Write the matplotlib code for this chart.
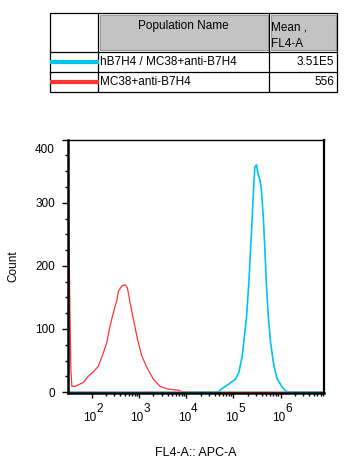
import matplotlib
matplotlib.use("Agg")
import matplotlib.pyplot as plt
import matplotlib.transforms as mtransforms
from matplotlib.patches import Rectangle
from matplotlib.ticker import FixedLocator, NullFormatter
import numpy as np

plt.rcParams['font.family'] = ['Liberation Sans', 'DejaVu Sans']

# legend table
pop_names = ["hB7H4 / MC38+anti-B7H4", "MC38+anti-B7H4"]
pop_means = ["3.51E5", "556"]
pop_colors = ["#00c3f3", "#ff3535"]

# MC38+anti-B7H4 histogram (FL4-A value, count)
red_fl = [31.6, 34, 35.7, 37.5, 43.5, 65, 83, 107, 136, 174, 205, 242, 284, 309,
          335, 363, 429, 504, 564, 644, 757, 920, 1140, 1458, 2015, 2796, 3880,
          6850, 8220, 8.3e6]
red_count = [300, 131, 35, 9, 9, 15, 25, 32, 41, 62, 78, 105, 126, 136,
             145, 160, 168, 170, 165, 141, 115, 84, 57, 39, 20, 9, 5,
             3, 0, 0]

# hB7H4 / MC38+anti-B7H4 histogram
cyan_fl = [31, 48000, 52840, 79430, 110400, 129700, 153100, 171400, 189200, 211800,
           230100, 250000, 270400, 283800, 308300, 328900, 363100, 388200,
           428500, 463400, 496600, 547000, 612400, 719500, 851100, 1086000,
           1276000, 1429000, 8.3e6]
cyan_count = [0, 0, 3.6, 12.6, 20.5, 31, 57, 89, 120, 173,
              226, 278, 331, 357, 360, 347, 336, 323,
              278, 226, 173, 120, 78, 41.5, 20.5, 7.4,
              2, 0, 0]

decades = [2, 3, 4, 5, 6]

W, H = 348, 473
fig = plt.figure(figsize=(W / 100, H / 100), dpi=100)

# ---- table drawn in pixel coordinates ----
tab = fig.add_axes([0, 0, 1, 1])
tab.set_xlim(0, W)
tab.set_ylim(H, 0)
tab.axis('off')

tl, tr, tt, tb = 50, 337, 13.5, 92.3
c1, c2 = 98.3, 269.3
r1, r2 = 51.7, 71.7
for (x0, x1) in [(100, 267.5), (271, 335.5)]:
    tab.add_patch(Rectangle((x0, tt + 1.5), x1 - x0, r1 - tt - 3, facecolor='#c3c3c3',
                            edgecolor='#9d9d9d', lw=0.8))
tab.add_patch(Rectangle((tl, tt), tr - tl, tb - tt, fill=False, edgecolor='black', lw=0.9))
for y in [r1, r2]:
    tab.plot([tl, tr], [y, y], color='black', lw=0.9)
for x in [c1, c2]:
    tab.plot([x, x], [tt, tb], color='black', lw=0.9)

fs = 8.5
tab.text((c1 + c2) / 2, 26, "Population Name", ha='center', va='center', fontsize=fs)
tab.text(c2 + 2, 27, "Mean ,", ha='left', va='center', fontsize=fs)
tab.text(c2 + 2, 44, "FL4-A", ha='left', va='center', fontsize=fs)
row_y = [62, 82]
for name, mean, col, y in zip(pop_names, pop_means, pop_colors, row_y):
    tab.plot([tl, c1 + 1], [y - 0.3, y - 0.3], color=col, lw=3, solid_capstyle='butt')
    tab.text(c1 + 2, y, name, ha='left', va='center', fontsize=fs)
    tab.text(tr - 3, y, mean, ha='right', va='center', fontsize=fs)

# ---- histogram ----
ax = fig.add_axes([68 / W, 1 - 393 / H, 256 / W, 253.3 / H])
ax.plot(red_fl, red_count, color=pop_colors[1], lw=0.9)
ax.plot(cyan_fl, cyan_count, color=pop_colors[0], lw=1.2)
ax.set_xscale('log')
ax.set_xlim(31, 8.3e6)
ax.set_ylim(-1.5, 400)

majors = [10.0 ** d for d in decades]
ax.xaxis.set_major_locator(FixedLocator(majors))
ax.xaxis.set_major_formatter(NullFormatter())
minors = [m * 10 ** e for e in decades for m in range(2, 10) if m * 10 ** e < 8.3e6]
ax.xaxis.set_minor_locator(FixedLocator(minors))
ax.xaxis.set_minor_formatter(NullFormatter())

# FlowJo style decade labels: "10" with a full-size raised exponent
trans = ax.get_xaxis_transform()
for d, v in zip(decades, majors):
    ax.text(v, -0.11, "10", transform=trans + mtransforms.ScaledTranslation(0.045, 0, fig.dpi_scale_trans),
            ha='right', va='baseline', fontsize=8.5, clip_on=False)
    ax.text(v, -0.075, str(d), transform=trans + mtransforms.ScaledTranslation(0.045, 0, fig.dpi_scale_trans),
            ha='left', va='baseline', fontsize=8.5, clip_on=False)

ax.set_yticks([0, 100, 200, 300, 400])
ax.set_yticks(np.arange(0, 400, 25), minor=True)
ax.tick_params(axis='y', which='major', length=4.5, width=1, labelsize=8.5, pad=5)
ax.tick_params(axis='y', which='minor', length=2.3, width=1)
ax.tick_params(axis='x', which='major', length=3.8, width=1)
ax.tick_params(axis='x', which='minor', length=2.3, width=1)
top_lab = ax.get_yticklabels()[-1]
top_lab.set_transform(top_lab.get_transform() + mtransforms.ScaledTranslation(0, -0.09, fig.dpi_scale_trans))

for side, lw in [('left', 1.8), ('bottom', 1.8), ('right', 1.6), ('top', 1.0)]:
    ax.spines[side].set_linewidth(lw)

ax.set_xlabel("FL4-A:: APC-A", fontsize=9)
ax.xaxis.set_label_coords(0.5, -0.213)
ax.set_ylabel("Count", fontsize=8.5)
ax.yaxis.set_label_coords(-0.19, 0.5)

fig.savefig("out.png", dpi=100)
